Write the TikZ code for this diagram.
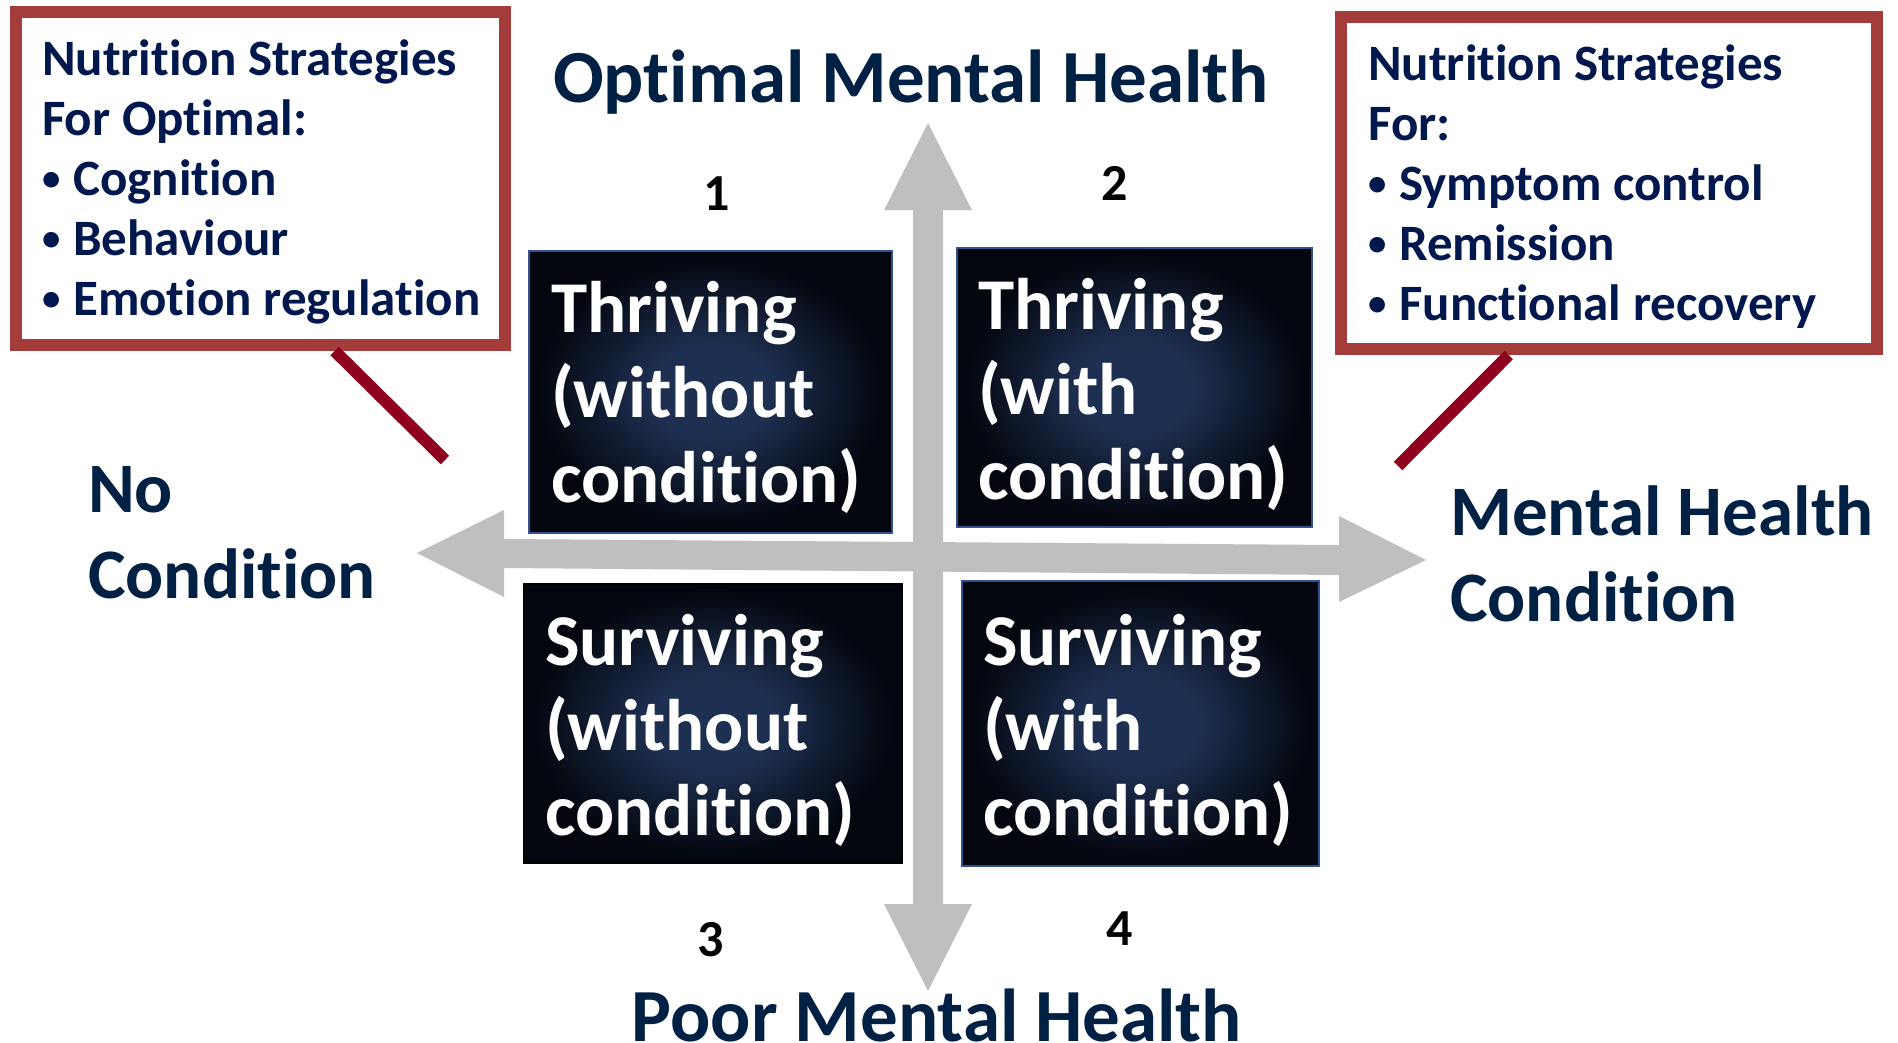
\documentclass[tikz,border=0pt]{standalone}
\usepackage{fontspec}
\usepackage{graphicx}
\setmainfont{Carlito}[Ligatures=NoCommon]
\usetikzlibrary{calc, positioning}

\definecolor{labelnavy}{RGB}{0,32,68}
\definecolor{notenavy}{RGB}{0,24,77}
\definecolor{noteframe}{RGB}{165,60,60}
\definecolor{pointerred}{RGB}{143,0,30}
\definecolor{axisgray}{RGB}{191,191,191}
\definecolor{glowin}{RGB}{30,48,82}
\definecolor{glowout}{RGB}{3,6,14}
\definecolor{glowedge}{RGB}{47,82,143}

\pgfdeclareradialshading{quadglow}{\pgfpoint{0bp}{0bp}}{color(0bp)=(glowin); color(8bp)=(glowin); color(24bp)=(glowout); color(50bp)=(glowout)}

\newcommand{\bitem}[1]{\makebox[31pt][l]{\raisebox{5pt}{\scalebox{0.72}{\textbullet}}}#1}

\tikzset{
  quad/.style={draw=glowedge, line width=2pt, shading=quadglow, inner sep=0pt},
  quadtext/.style={anchor=base west, inner sep=0pt, align=left, text=white,
    font=\bfseries\fontsize{73}{85}\selectfont},
  axislabel/.style={inner sep=0pt, align=left, text=labelnavy,
    font=\bfseries\fontsize{71}{86}\selectfont},
  note/.style={draw=noteframe, line width=12pt, fill=white, inner sep=0pt},
  notetext/.style={anchor=base west, inner sep=0pt, align=left, text=notenavy,
    font=\bfseries\fontsize{51}{60}\selectfont},
  pointer/.style={draw=pointerred, line width=12pt},
  quadnum/.style={anchor=base, inner sep=0pt, font=\bfseries\fontsize{52}{60}\selectfont}
}

\begin{document}
\begin{tikzpicture}[x=1pt, y=-1pt]
  \useasboundingbox[fill=white] (0,0) rectangle (1898,1042);

  % axes
  \fill[axisgray] (417,553) -- (504,510) -- (504,539) -- (1339,545) -- (1339,516)
    -- (1426,560) -- (1339,602) -- (1339,575) -- (504,568) -- (504,597) -- cycle;
  \fill[axisgray] (928,123) -- (972,210) -- (943,210) -- (943,904) -- (972,904)
    -- (928,991) -- (884,904) -- (913,904) -- (913,210) -- (884,210) -- cycle;

  % axis labels (base = last line)
  \node[axislabel, anchor=base] (optimal) at (911,102)
    {\fontsize{75}{90}\selectfont Optimal Mental Health};
  \node[axislabel, anchor=base] (poor) at (937,1041)
    {\fontsize{75}{90}\selectfont Poor Mental Health};
  \node[axislabel, anchor=base west] (nocond) at (88,598) {No\\Condition};
  \node[axislabel, anchor=base west] (mhcond) at (1450,621) {Mental Health\\Condition};

  % quadrants
  \node[quad, minimum width=363pt, minimum height=282pt] (q1) at (710.5,392) {};
  \node[quad, minimum width=355pt, minimum height=279pt] (q2) at (1134.5,387.5) {};
  \node[quad, minimum width=378pt, minimum height=279pt, draw=black] (q3) at (713,723.5) {};
  \node[quad, minimum width=357pt, minimum height=285pt] (q4) at (1140.5,723.5) {};

  \node[quadtext] (t1) at (551,502) {Thriving\\(without\\condition)};
  \node[quadtext] (t2) at (978,499) {Thriving\\(with\\condition)};
  \node[quadtext] (t3) at (545,835) {Surviving\\(without\\condition)};
  \node[quadtext] (t4) at (983,835) {Surviving\\(with\\condition)};

  \node[quadnum] (n1) at (717,210) {1};
  \node[quadnum] (n2) at (1115,200) {2};
  \node[quadnum] (n3) at (711,956) {3};
  \node[quadnum] (n4) at (1120,945) {4};

  % strategy notes
  \node[note, minimum width=489pt, minimum height=333pt] (lnote) at (260.5,178.5) {};
  \node[note, minimum width=536pt, minimum height=332pt] (rnote) at (1609,183) {};
  \coordinate (lptr) at (445,460);
  \coordinate (rptr) at (1398,466);
  \draw[pointer] ($(lnote.south west)!0.648!(lnote.south east)$) -- (lptr);
  \draw[pointer] ($(rnote.south west)!0.317!(rnote.south east)$) -- (rptr);

  \node[notetext] (ltext) at (42,315)
    {Nutrition Strategies\\For Optimal:\\\bitem{Cognition}\\\bitem{Behaviour}\\\bitem{Emotion regulation}};
  \node[notetext] (rtext) at (1368,320)
    {Nutrition Strategies\\For:\\\bitem{Symptom control}\\\bitem{Remission}\\\bitem{Functional recovery}};
\end{tikzpicture}
\end{document}
